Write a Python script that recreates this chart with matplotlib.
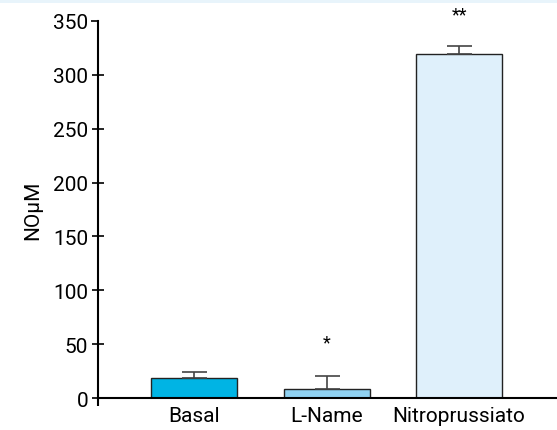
import matplotlib
matplotlib.use("Agg")
import matplotlib.pyplot as plt
from matplotlib.patches import Rectangle
from matplotlib import markers

categories = ["Basal", "L-Name", "Nitroprussiato"]
values = [19, 8, 319]
errors = [5, 12, 8]
colors = ["#00b4e4", "#8fd1f1", "#dff0fb"]
stars = ["", "*", "**"]
star_y = [0, 52, 356]
yticks = [0, 50, 100, 150, 200, 250, 300, 350]

plt.rcParams['font.family'] = ['Roboto', 'DejaVu Sans']

fig = plt.figure(figsize=(5.57, 4.31), dpi=100)
fig.patches.append(Rectangle((0, 0.99), 1, 0.01, transform=fig.transFigure,
                             facecolor="#e8f4fb", edgecolor="none", zorder=0))
ax = fig.add_axes([0.176, 0.0742, 0.824, 0.875])

x = range(len(categories))
ax.bar(x, values, width=0.65, color=colors, edgecolor="#222222", linewidth=1.0, zorder=2)
ax.errorbar(x, values, yerr=[[0]*3, errors], fmt="none", ecolor="#444444",
            elinewidth=1.2, capsize=9, capthick=1.2, zorder=3)
for xi, s, sy in zip(x, stars, star_y):
    if s:
        ax.text(xi, sy, s, ha="center", va="center", fontsize=13, clip_on=False)

ax.set_xlim(-0.728, 2.74)
ax.set_ylim(0, 350)
ax.set_yticks(yticks)
ax.set_xticks(list(x))
ax.set_xticklabels(categories, fontsize=15)
ax.tick_params(axis="x", length=0, pad=6)
ax.tick_params(axis="y", direction="inout", length=8, width=1.2, labelsize=15, pad=3)
for sp in ["top", "right"]:
    ax.spines[sp].set_visible(False)
ax.spines["left"].set_linewidth(1.5)
ax.spines["bottom"].set_linewidth(1.5)
ax.set_ylabel("NOμM", fontsize=15, labelpad=8)

fig.canvas.draw()
top_tick = ax.yaxis.get_major_ticks()[-1]
top_tick.tick1line.set_marker(markers.TICKLEFT)
top_tick.tick1line.set_markersize(5)
ax.plot([0, 0], [0, -0.021], transform=ax.transAxes, clip_on=False,
        color="black", lw=1.5, solid_capstyle="butt")

fig.savefig("out.png", dpi=100, facecolor="white")
